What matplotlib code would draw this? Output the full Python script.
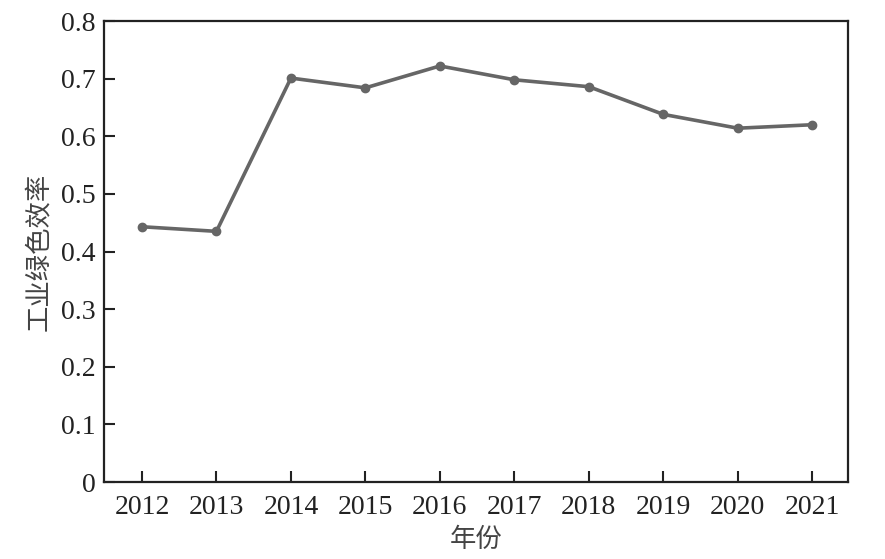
import matplotlib
matplotlib.use("Agg")
from matplotlib import pyplot as plt

years = [2012, 2013, 2014, 2015, 2016, 2017, 2018, 2019, 2020, 2021]
efficiency = [0.443, 0.435, 0.701, 0.684, 0.722, 0.698, 0.686, 0.638, 0.614, 0.620]
y_ticks = [0, 0.1, 0.2, 0.3, 0.4, 0.5, 0.6, 0.7, 0.8]
y_tick_labels = ["0", "0.1", "0.2", "0.3", "0.4", "0.5", "0.6", "0.7", "0.8"]

plt.rcParams["font.family"] = ["Liberation Serif", "Noto Sans CJK SC", "DejaVu Sans"]

fig = plt.figure(figsize=(8.85, 5.59), dpi=100)
ax = fig.add_axes([0.1175, 0.1377, 0.8407, 0.8247])

ax.plot(years, efficiency, color="#666666", linewidth=2.6,
        marker="o", markersize=6, markerfacecolor="#666666",
        markeredgecolor="#666666")

ax.set_xlim(2011.49, 2021.48)
ax.set_ylim(0, 0.8)
ax.set_xticks(years)
ax.set_xticklabels([str(y) for y in years])
ax.set_yticks(y_ticks)
ax.set_yticklabels(y_tick_labels)

for side in ["left", "right", "top", "bottom"]:
    ax.spines[side].set_linewidth(1.6)
    ax.spines[side].set_color("#222222")

ax.tick_params(axis="both", direction="in", length=8, width=1.5,
               labelsize=20, colors="#222222")
ax.tick_params(axis="x", pad=9)
ax.tick_params(axis="y", pad=6)

ax.set_xlabel("年份", fontsize=19, color="#444444", labelpad=6)
ax.set_ylabel("工业绿色效率", fontsize=19, color="#444444", labelpad=7)

plt.savefig("out.png", dpi=100)
